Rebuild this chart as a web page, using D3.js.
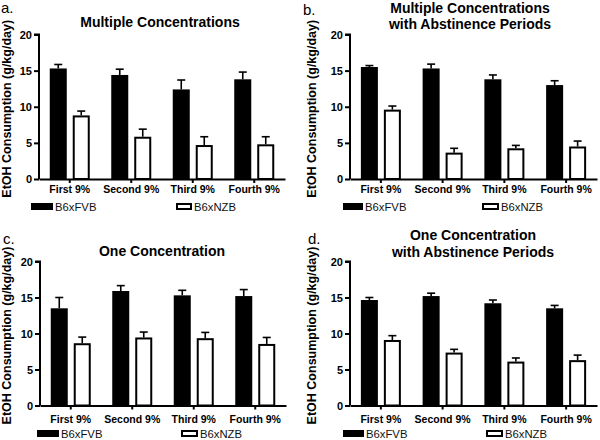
<!DOCTYPE html>
<html>
<head>
<meta charset="utf-8">
<script src="https://cdn.jsdelivr.net/npm/d3@7"></script>
<style>
  html, body { margin: 0; padding: 0; background: #fff; }
  svg { display: block; }
  text { font-family: "Liberation Sans", Arial, sans-serif; }
</style>
</head>
<body>
<script>
// ---------- data ----------
const categories = ["First 9%", "Second 9%", "Third 9%", "Fourth 9%"];
const seriesNames = ["B6xFVB", "B6xNZB"];
const yTicks = [0, 5, 10, 15, 20];
const yLabel = "EtOH Consumption (g/kg/day)";

const panelLetters = ["a.", "b.", "c.", "d."];
const panelTitles = [
  ["Multiple Concentrations"],
  ["Multiple Concentrations", "with Abstinence Periods"],
  ["One Concentration"],
  ["One Concentration", "with Abstinence Periods"]
];

// panel a
const fvbA = [15.3, 14.4, 12.4, 13.8];
const fvbAErr = [0.55, 0.8, 1.3, 1.0];
const nzbA = [8.8, 5.85, 4.7, 4.8];
const nzbAErr = [0.6, 1.05, 1.15, 1.05];
// panel b
const fvbB = [15.5, 15.3, 13.8, 13.0];
const fvbBErr = [0.2, 0.6, 0.6, 0.6];
const nzbB = [9.6, 3.65, 4.25, 4.5];
const nzbBErr = [0.5, 0.6, 0.4, 0.75];
// panel c
const fvbC = [13.5, 15.9, 15.3, 15.2];
const fvbCErr = [1.5, 0.75, 0.7, 0.9];
const nzbC = [8.65, 9.45, 9.35, 8.55];
const nzbCErr = [0.85, 0.75, 0.8, 0.9];
// panel d
const fvbD = [14.65, 15.2, 14.2, 13.5];
const fvbDErr = [0.35, 0.4, 0.45, 0.4];
const nzbD = [9.1, 7.35, 6.1, 6.3];
const nzbDErr = [0.6, 0.45, 0.5, 0.7];

const panelData = [
  [fvbA, fvbAErr, nzbA, nzbAErr],
  [fvbB, fvbBErr, nzbB, nzbBErr],
  [fvbC, fvbCErr, nzbC, nzbCErr],
  [fvbD, fvbDErr, nzbD, nzbDErr]
];

// ---------- layout ----------
const W = 600, H = 440;
const svg = d3.select("body").append("svg").attr("width", W).attr("height", H);

const layouts = [
  { x0: 39, x1: 285, yTop: 34.5, yBot: 179, titleX: 160, titleY: [27], letter: [1, 13], ylabX: 11, catY: 193, legY: 203, legBlack: [31, 53], legWhite: [176, 192] },
  { x0: 350, x1: 597, yTop: 34.5, yBot: 179, titleX: 470, titleY: [12.5, 28.5], letter: [303, 15], ylabX: 316, catY: 193, legY: 203, legBlack: [343, 363], legWhite: [482, 499] },
  { x0: 40, x1: 286, yTop: 261.5, yBot: 405.5, titleX: 162, titleY: [256], letter: [3, 244], ylabX: 11, catY: 423, legY: 430, legBlack: [37, 59], legWhite: [181, 198] },
  { x0: 350, x1: 597, yTop: 261.5, yBot: 405.5, titleX: 473, titleY: [240, 257], letter: [308, 244], ylabX: 316, catY: 423, legY: 430, legBlack: [343, 364], legWhite: [486, 503] }
];

layouts.forEach((L, p) => {
  const [fvb, fvbErr, nzb, nzbErr] = panelData[p];
  const g = svg.append("g");

  const x = d3.scaleBand().domain(categories).range([L.x0, L.x1]).padding(0);
  const y = d3.scaleLinear().domain([0, 20]).range([L.yBot, L.yTop]);
  const sub = d3.scaleBand().domain(seriesNames).range([-20, 20]).paddingInner(0.26);

  const rows = categories.map((c, i) => ({ c, vals: [
    { s: seriesNames[0], v: fvb[i], e: fvbErr[i] },
    { s: seriesNames[1], v: nzb[i], e: nzbErr[i] }
  ]}));

  // bars
  const grp = g.selectAll("g.grp").data(rows).enter().append("g")
    .attr("transform", d => `translate(${x(d.c) + x.bandwidth() / 2},0)`);

  grp.selectAll("rect").data(d => d.vals).enter().append("rect")
    .attr("x", d => sub(d.s) + (d.s === seriesNames[1] ? 1 : 0))
    .attr("y", d => y(d.v) + (d.s === seriesNames[1] ? 1 : 0))
    .attr("width", d => sub.bandwidth() - (d.s === seriesNames[1] ? 2 : 0))
    .attr("height", d => y(0) - y(d.v) - (d.s === seriesNames[1] ? 1 : 0))
    .attr("fill", d => d.s === seriesNames[0] ? "#000" : "#fff")
    .attr("stroke", d => d.s === seriesNames[0] ? "none" : "#000")
    .attr("stroke-width", 2);

  // error bars (upper only)
  grp.selectAll("line.err").data(d => d.vals).enter().append("line")
    .attr("x1", d => sub(d.s) + sub.bandwidth() / 2)
    .attr("x2", d => sub(d.s) + sub.bandwidth() / 2)
    .attr("y1", d => y(d.v))
    .attr("y2", d => y(d.v + d.e))
    .attr("stroke", "#000").attr("stroke-width", 1.6);
  grp.selectAll("line.cap").data(d => d.vals).enter().append("line")
    .attr("x1", d => sub(d.s) + sub.bandwidth() / 2 - 4)
    .attr("x2", d => sub(d.s) + sub.bandwidth() / 2 + 4)
    .attr("y1", d => y(d.v + d.e))
    .attr("y2", d => y(d.v + d.e))
    .attr("stroke", "#000").attr("stroke-width", 1.6);

  // y axis
  const yAx = g.append("g").attr("transform", `translate(${L.x0},0)`)
    .call(d3.axisLeft(y).tickValues(yTicks).tickSize(5).tickPadding(2).tickFormat(d3.format("d")));
  yAx.select(".domain").attr("stroke-width", 2).attr("d", `M-5,${y(20)}H0V${y(0)}`);
  yAx.selectAll(".tick line").attr("stroke-width", 2);
  yAx.selectAll(".tick text").attr("font-size", 11).attr("font-weight", "bold")
    .attr("font-family", "Liberation Sans, Arial, sans-serif").attr("fill", "#000");

  // x axis
  const xAx = g.append("g").attr("transform", `translate(0,${L.yBot})`)
    .call(d3.axisBottom(x).tickSize(4).tickSizeOuter(0).tickFormat(() => ""));
  xAx.select(".domain").attr("stroke-width", 2);
  xAx.selectAll(".tick line").attr("stroke-width", 2);

  // category labels
  g.selectAll("text.cat").data(categories).enter().append("text")
    .attr("x", d => x(d) + x.bandwidth() / 2)
    .attr("y", L.catY)
    .attr("text-anchor", "middle")
    .attr("font-size", 10.5).attr("font-weight", "bold")
    .text(d => d);

  // y label
  g.append("text")
    .attr("transform", `translate(${L.ylabX},${(L.yTop + L.yBot) / 2 + 2}) rotate(-90)`)
    .attr("text-anchor", "middle")
    .attr("font-size", 12.5).attr("font-weight", "bold")
    .text(yLabel);

  // title
  panelTitles[p].forEach((t, i) => {
    g.append("text")
      .attr("x", L.titleX).attr("y", L.titleY[i])
      .attr("text-anchor", "middle")
      .attr("font-size", 14).attr("font-weight", "bold")
      .text(t);
  });

  // letter
  g.append("text").attr("x", L.letter[0]).attr("y", L.letter[1])
    .attr("font-size", 15).text(panelLetters[p]);

  // legend
  g.append("rect").attr("x", L.legBlack[0]).attr("y", L.legY)
    .attr("width", L.legBlack[1] - L.legBlack[0]).attr("height", 7).attr("fill", "#000");
  g.append("text").attr("x", L.legBlack[1] + 2).attr("y", L.legY + 8)
    .attr("font-size", 11.3).attr("fill", "#111").text(seriesNames[0]);
  g.append("rect").attr("x", L.legWhite[0] + 1).attr("y", L.legY + 1)
    .attr("width", L.legWhite[1] - L.legWhite[0] - 2).attr("height", 5)
    .attr("fill", "#fff").attr("stroke", "#000").attr("stroke-width", 2);
  g.append("text").attr("x", L.legWhite[1] + 2).attr("y", L.legY + 8)
    .attr("font-size", 11.3).attr("fill", "#111").text(seriesNames[1]);
});
</script>
</body>
</html>
